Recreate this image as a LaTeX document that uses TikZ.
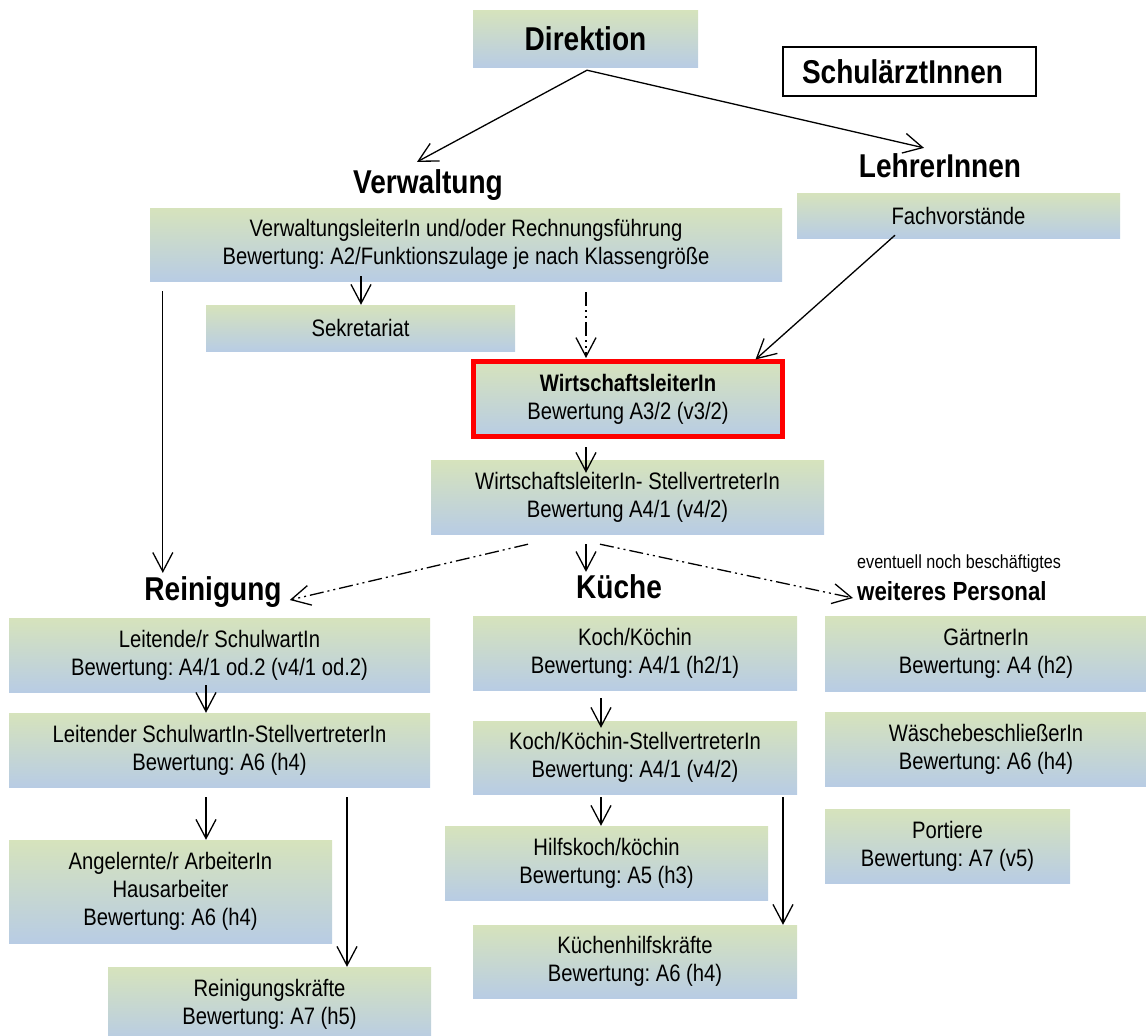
\documentclass[tikz,border=0pt]{standalone}
\usepackage{fontspec}
\setmainfont{Liberation Sans}[FakeStretch=0.85]
\usetikzlibrary{arrows.meta,calc}
\definecolor{gruen}{RGB}{214,227,188}
\definecolor{blau}{RGB}{184,204,228}
\definecolor{rahmenrot}{RGB}{255,0,0}
\frenchspacing
\begin{document}
\begin{tikzpicture}[x=1pt,y=-1pt,
    kasten/.style={top color=gruen, bottom color=blau, inner sep=0pt, align=center,
      font=\fontsize{23.8}{28}\selectfont},
    titel/.style={inner sep=0pt, anchor=base, font=\fontsize{33}{38}\selectfont\bfseries},
    pfeil/.style={-{Straight Barb[length=19pt,width=20pt]}, line width=1.3pt},
    strich/.style={dash pattern=on 14pt off 4pt on 2pt off 4pt on 2pt off 4pt}]
     \useasboundingbox (0,0) rectangle (1146,1036);
     % Leitung
     \node[kasten, minimum width=225, minimum height=57, font=\fontsize{33}{38}\selectfont\bfseries] (dir) at (585.5,38.5) {Direktion};
     \node[draw, line width=1.5pt, fill=white, minimum height=49, inner xsep=19pt, text width=215pt, align=left,
       font=\fontsize{33}{38}\selectfont\bfseries] (arzt) at (909.5,71.5) {SchulärztInnen};
     \node[titel] (verw) at (428,193) {Verwaltung};
     \node[titel] (lehr) at (940,177) {LehrerInnen};
     \node[kasten, minimum width=632, minimum height=73] (vwl) at (466,244.5)
       {VerwaltungsleiterIn und/oder Rechnungsführung\\Bewertung: A2/Funktionszulage je nach Klassengröße};
     \node[kasten, minimum width=323, minimum height=45] (fach) at (958.5,215.5) {Fachvorstände};
     \node[kasten, minimum width=309, minimum height=46] (sek) at (360.5,328) {Sekretariat};
     \node[kasten, draw=rahmenrot, line width=5pt, minimum width=309, minimum height=75] (wl) at (628,399)
       {\textbf{WirtschaftsleiterIn}\\Bewertung A3/2 (v3/2)};
     \node[kasten, minimum width=393, minimum height=74] (wlst) at (627.5,497)
       {WirtschaftsleiterIn- StellvertreterIn\\Bewertung A4/1 (v4/2)};
     % Bereiche
     \node[titel] (rein) at (213,600) {Reinigung};
     \node[titel] (kue) at (619,598) {Küche};
     \node[inner sep=0pt, anchor=base west, font=\fontsize{19}{23}\selectfont] (evtl) at (857,568) {eventuell noch beschäftigtes};
     \node[inner sep=0pt, anchor=base west, font=\fontsize{26.2}{31}\selectfont\bfseries] (weit) at (857,600) {weiteres Personal};
     % Reinigung
     \node[kasten, minimum width=421, minimum height=74] (r1) at (219.5,655)
       {Leitende/r SchulwartIn\\Bewertung: A4/1 od.2 (v4/1 od.2)};
     \node[kasten, minimum width=421, minimum height=74] (r2) at (219.5,750)
       {Leitender SchulwartIn-StellvertreterIn\\Bewertung: A6 (h4)};
     \node[kasten, minimum width=323, minimum height=103] (r3) at (170.5,891.5)
       {Angelernte/r ArbeiterIn\\Hausarbeiter\\Bewertung: A6 (h4)};
     \node[kasten, minimum width=323, minimum height=74] (r4) at (269.5,1004)
       {Reinigungskräfte\\Bewertung: A7 (h5)};
     % Kueche
     \node[kasten, minimum width=324, minimum height=74] (k1) at (635,653)
       {Koch/Köchin\\Bewertung: A4/1 (h2/1)};
     \node[kasten, minimum width=324, minimum height=73] (k2) at (635,757.5)
       {Koch/Köchin-StellvertreterIn\\Bewertung: A4/1 (v4/2)};
     \node[kasten, minimum width=323, minimum height=74] (k3) at (606.5,863)
       {Hilfskoch/köchin\\Bewertung: A5 (h3)};
     \node[kasten, minimum width=324, minimum height=73] (k4) at (635,961.5)
       {Küchenhilfskräfte\\Bewertung: A6 (h4)};
     % weiteres Personal
     \node[kasten, minimum width=322, minimum height=75] (p1) at (986,653.5)
       {GärtnerIn\\Bewertung: A4 (h2)};
     \node[kasten, minimum width=322, minimum height=74] (p2) at (986,749)
       {WäschebeschließerIn\\Bewertung: A6 (h4)};
     \node[kasten, minimum width=245, minimum height=74] (p3) at (947.5,846)
       {Portiere\\Bewertung: A7 (v5)};
     % Pfeile
     \draw[pfeil] ($(dir.south)+(1.5,3)$) -- ($(verw.north)+(-11,-7)$);
     \draw[pfeil] ($(dir.south)+(1.5,3)$) -- ($(lehr.north)+(-16,-5)$);
     \draw[pfeil] ($(fach.south)+(-63.5,-3)$) -- ($(wl.north east)+(-29.5,0.5)$);
     \draw[pfeil] ($(vwl.south -| sek.north)+(0.5,-5)$) coordinate (s1) -- (s1 |- sek.north);
     \draw[pfeil, strich] ($(vwl.south)+(120,11)$) coordinate (s2) -- ($(s2 |- wl.north)+(0,-1)$);
     \draw[pfeil] ($(vwl.south west)+(13,10)$) coordinate (s3) -- ($(s3 |- rein.north)+(0,-3)$);
     \draw[pfeil] ($(wl.south)+(-42,8)$) coordinate (s4) -- ($(s4 |- wlst.north)+(0,13)$);
     \draw[pfeil] ($(wlst.south)+(-41.5,10)$) coordinate (s5) -- ($(s5 |- kue.north)+(0,-2)$);
     \draw[pfeil, strich] ($(wlst.south)+(-99.5,10)$) -- ($(rein.base east)+(8,0)$);
     \draw[pfeil, strich] ($(wlst.south)+(-27.5,10)$) -- ($(weit.base west)+(-4,-2)$);
     \draw[pfeil] ($(r1.south)+(-13.5,-7)$) coordinate (s6) -- (s6 |- r2.north);
     \draw[pfeil] ($(r2.south)+(-13.5,10)$) coordinate (s7) -- (s7 |- r3.north);
     \draw[pfeil] ($(r2.south)+(127.5,10)$) coordinate (s8) -- (s8 |- r4.north);
     \draw[pfeil] ($(k1.south)+(-34,8)$) coordinate (s9) -- ($(s9 |- k2.north)+(0,7)$);
     \draw[pfeil] ($(k2.south)+(-34,3)$) coordinate (s10) -- (s10 |- k3.north);
     \draw[pfeil] ($(k2.south)+(148,3)$) coordinate (s11) -- (s11 |- k4.north);
\end{tikzpicture}
\end{document}
